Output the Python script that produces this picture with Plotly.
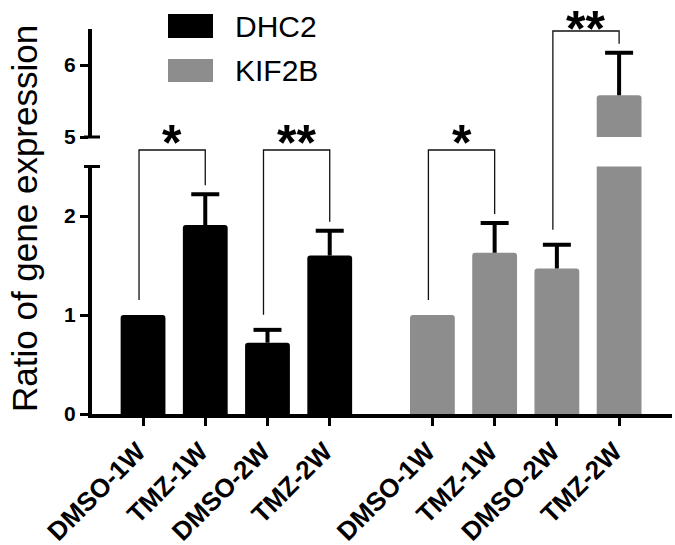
import plotly.graph_objects as go

# ---------------- data ----------------
categories = ["DMSO-1W", "TMZ-1W", "DMSO-2W", "TMZ-2W"]
series_names = ["DHC2", "KIF2B"]
dhc2_values = [1.0, 1.91, 0.72, 1.60]
dhc2_errors = [None, 0.31, 0.13, 0.25]
kif2b_values = [1.0, 1.63, 1.47, 5.58]
kif2b_errors = [None, 0.30, 0.24, 0.59]
lower_ticks = [0, 1, 2]
upper_ticks = [5, 6]
# significance brackets: (series index, left bar, right bar, label)
significance = [(0, 0, 1, "*"), (0, 2, 3, "**"), (1, 0, 1, "*"), (1, 2, 3, "**")]

# ---------------- layout geometry ----------------
W, H = 675, 545
ML, MR, MT, MB = 92, 3, 29, 131
PW, PH = W - ML - MR, H - MT - MB
GROUP_SHIFT = 4.65
BAR_W = 0.72
XR = [-0.82, 8.5]
LOW_RANGE, LOW_DOM = [0, 2.5], [0, 247.5 / PH]
UP_RANGE, UP_DOM = [5, 6.5], [(414 - 137) / PH, 1.0]
BLACK, GREY = "#000000", "#8d8d8d"
colors = [BLACK, GREY]
FONT = "Liberation Sans, Arial, sans-serif"

def xpos(g, i):
    return i + g * GROUP_SHIFT

def x_paper(x):
    return (x - XR[0]) / (XR[1] - XR[0])

def y_paper(v):
    if v <= LOW_RANGE[1]:
        r, d = LOW_RANGE, LOW_DOM
    else:
        r, d = UP_RANGE, UP_DOM
    return d[0] + (v - r[0]) / (r[1] - r[0]) * (d[1] - d[0])

def px_x(p):
    return (p - ML) / PW

def px_y(p):
    return (H - MB - p) / PH

values = [dhc2_values, kif2b_values]
errors = [dhc2_errors, kif2b_errors]

fig = go.Figure()
for g, name in enumerate(series_names):
    xs = [xpos(g, i) for i in range(len(categories))]
    axes = ["y", "y2"] if g == 1 else ["y"]
    for ya in axes:
        fig.add_trace(go.Bar(
            x=xs, y=values[g], name=name, yaxis=ya, width=BAR_W,
            marker=dict(color=colors[g], line=dict(width=0), cornerradius=3),
            showlegend=False, hoverinfo="skip",
        ))
    # error bars (upper only): stem + cap
    for ya in axes:
        ex, ey, cx, cy = [], [], [], []
        for i, (v, e) in enumerate(zip(values[g], errors[g])):
            if e:
                ex += [xs[i], xs[i], None]
                ey += [v, v + e, None]
                cx.append(xs[i])
                cy.append(v + e)
        fig.add_trace(go.Scatter(x=ex, y=ey, yaxis=ya, mode="lines",
                                 line=dict(color=BLACK, width=4),
                                 showlegend=False, hoverinfo="skip"))
        fig.add_trace(go.Scatter(x=cx, y=cy, yaxis=ya, mode="markers",
                                 marker=dict(symbol="line-ew", size=20, color=BLACK,
                                             line=dict(color=BLACK, width=4)),
                                 showlegend=False, hoverinfo="skip"))

def top_of(g, i):
    e = errors[g][i] or 0
    v = values[g][i] + e
    return y_paper(v) if v <= LOW_RANGE[1] or v >= UP_RANGE[0] else y_paper(LOW_RANGE[1])

bracket_tops_px = [150, 150, 150, 31]
STAR_SIZE = 50
STAR_K = 21  # px from text-box top to glyph centre
gap = 15 / PH
shapes = []
annotations = []
for k, (g, a, b, lab) in enumerate(significance):
    xa, xb = x_paper(xpos(g, a)) - 4 / PW, x_paper(xpos(g, b))
    ya = top_of(g, a) + gap
    yb = top_of(g, b) + gap * 0.6
    yt = px_y(bracket_tops_px[k])
    shapes.append(dict(type="path", xref="paper", yref="paper",
                       path=f"M{xa},{ya} L{xa},{yt} L{xb},{yt} L{xb},{yb}",
                       line=dict(color="#111111", width=1.3)))
    star_centre = bracket_tops_px[k] - 15
    box_top = max(0, star_centre - STAR_K)
    annotations.append(dict(x=(xa + xb) / 2, y=px_y(box_top), xref="paper", yref="paper",
                            text=lab, showarrow=False, xanchor="center", yanchor="top",
                            borderpad=0,
                            font=dict(family=FONT, size=STAR_SIZE, color=BLACK, weight="bold")))

# axis-break end marks on the y axis
for v in (LOW_RANGE[1], UP_RANGE[0]):
    yb = y_paper(v) if v == LOW_RANGE[1] else UP_DOM[0]
    yb = LOW_DOM[1] if v == LOW_RANGE[1] else UP_DOM[0]
    shapes.append(dict(type="line", xref="paper", yref="paper",
                       x0=px_x(84), x1=px_x(100), y0=yb, y1=yb,
                       line=dict(color=BLACK, width=3)))

# legend (drawn)
leg_rows = [(14, 38), (59, 82)]
for g, name in enumerate(series_names):
    t, b = leg_rows[g]
    shapes.append(dict(type="rect", xref="paper", yref="paper",
                       x0=px_x(168), x1=px_x(213), y0=px_y(b), y1=px_y(t),
                       fillcolor=colors[g], line=dict(width=0)))
    annotations.append(dict(x=px_x(233), y=px_y((t + b) / 2), xref="paper", yref="paper",
                            text=name, showarrow=False, xanchor="left", yanchor="middle",
                            font=dict(family=FONT, size=30, color=BLACK)))

# y title
annotations.append(dict(x=px_x(24), y=px_y(219), xref="paper", yref="paper",
                        text="Ratio of gene expression", textangle=-90, showarrow=False,
                        xanchor="center", yanchor="middle",
                        font=dict(family=FONT, size=35, color=BLACK)))

tickvals = [xpos(g, i) for g in range(2) for i in range(len(categories))]
ticktext = categories * 2

axis_common = dict(showgrid=False, zeroline=False, showline=True, linecolor=BLACK,
                   linewidth=4, ticks="outside", ticklen=8, tickwidth=3, tickcolor=BLACK,
                   automargin=False)

fig.update_layout(
    width=W, height=H, margin=dict(l=ML, r=MR, t=MT, b=MB, autoexpand=False),
    paper_bgcolor="white", plot_bgcolor="white", barmode="overlay",
    showlegend=False,
    xaxis=dict(range=XR, tickvals=tickvals, ticktext=ticktext, tickangle=-45,
               ticklabelshift=-5,
               anchor="y", tickfont=dict(family=FONT, size=26, color=BLACK, weight="bold"),
               **axis_common),
    yaxis=dict(range=LOW_RANGE, domain=LOW_DOM, tickvals=lower_ticks, anchor="x",
               tickfont=dict(family=FONT, size=21, color=BLACK, weight="bold"),
               **axis_common),
    yaxis2=dict(range=UP_RANGE, domain=UP_DOM, tickvals=upper_ticks, anchor="x",
                tickfont=dict(family=FONT, size=21, color=BLACK, weight="bold"),
                **axis_common),
    shapes=shapes, annotations=annotations,
)

fig.write_html("out.html", config={"displayModeBar": False},
               post_script="document.body.style.margin='0';")
